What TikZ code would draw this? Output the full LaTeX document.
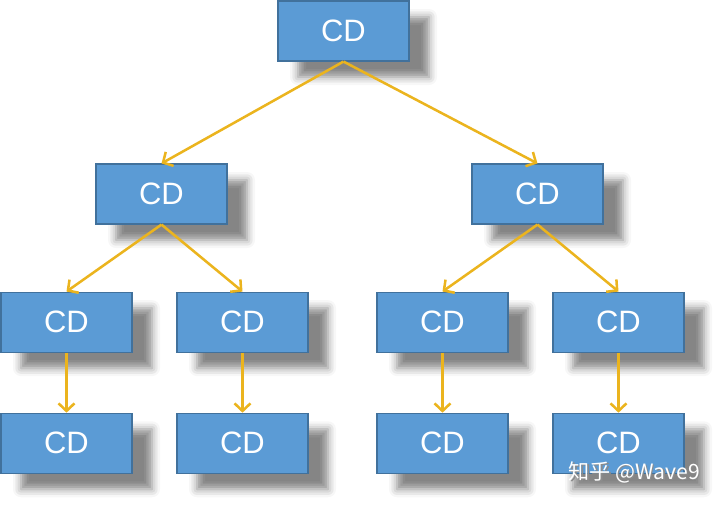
\documentclass[tikz,border=0pt]{standalone}
\usepackage{fontspec}
\setmainfont{Liberation Sans}
\newfontfamily\cjkfont{Noto Sans CJK SC}
\usetikzlibrary{arrows.meta,positioning,shadows.blur}
\definecolor{CDBlue}{HTML}{5B9BD5}
\definecolor{CDEdge}{HTML}{41719C}
\definecolor{CDGold}{HTML}{EBB41E}

\begin{document}
\begin{tikzpicture}[
  node distance=1.5cm,
  box/.style={draw=CDEdge, line width=0.8pt, fill=CDBlue, text=white, minimum width=3.275cm, minimum height=1.5cm, font=\fontsize{22}{24}\selectfont,
    blur shadow={shadow xshift=0.5cm, shadow yshift=-0.4cm, shadow blur radius=0.2cm, shadow opacity=48}},
  flow/.style={-{Straight Barb[length=1.9mm,width=4mm,line width=1.8pt]}, line width=1.8pt, draw=CDGold}
]
\useasboundingbox (0,0) rectangle (18,-12.6);
% top level
\node[box] (root) at (8.5875,-0.775) {CD};
\node[box] (left) at (4.0375,-4.85) {CD};
\node[box] (right) at (13.4375,-4.85) {CD};
% third level
\node[box, below=1.675cm of left, xshift=-2.375cm] (leftA) {CD};
\node[box, below=1.675cm of left, xshift=2.025cm] (leftB) {CD};
\node[box, below=1.675cm of right, xshift=-2.375cm] (rightA) {CD};
\node[box, below=1.675cm of right, xshift=2.025cm] (rightB) {CD};
% leaves
\node[box, below=of leftA] (leafA) {CD};
\node[box, below=of leftB] (leafB) {CD};
\node[box, below=of rightA] (leafC) {CD};
\node[box, below=of rightB] (leafD) {CD};

\draw[flow] (root.south) -- (left.north);
\draw[flow] (root.south) -- (right.north);
\draw[flow] (left.south) -- (leftA.north);
\draw[flow] (left.south) -- (leftB.north);
\draw[flow] (right.south) -- (rightA.north);
\draw[flow] (right.south) -- (rightB.north);
\draw[flow] (leftA) -- (leafA);
\draw[flow] (leftB) -- (leafB);
\draw[flow] (rightA) -- (leafC);
\draw[flow] (rightB) -- (leafD);

% watermark
\node[text=black!45, font=\cjkfont\fontsize{15}{17}\selectfont] (markshade) at (15.89,-11.83) {知乎 @Wave9};
\node[text=white, font=\cjkfont\fontsize{15}{17}\selectfont] (mark) at (15.86,-11.8) {知乎 @Wave9};
\end{tikzpicture}
\end{document}
